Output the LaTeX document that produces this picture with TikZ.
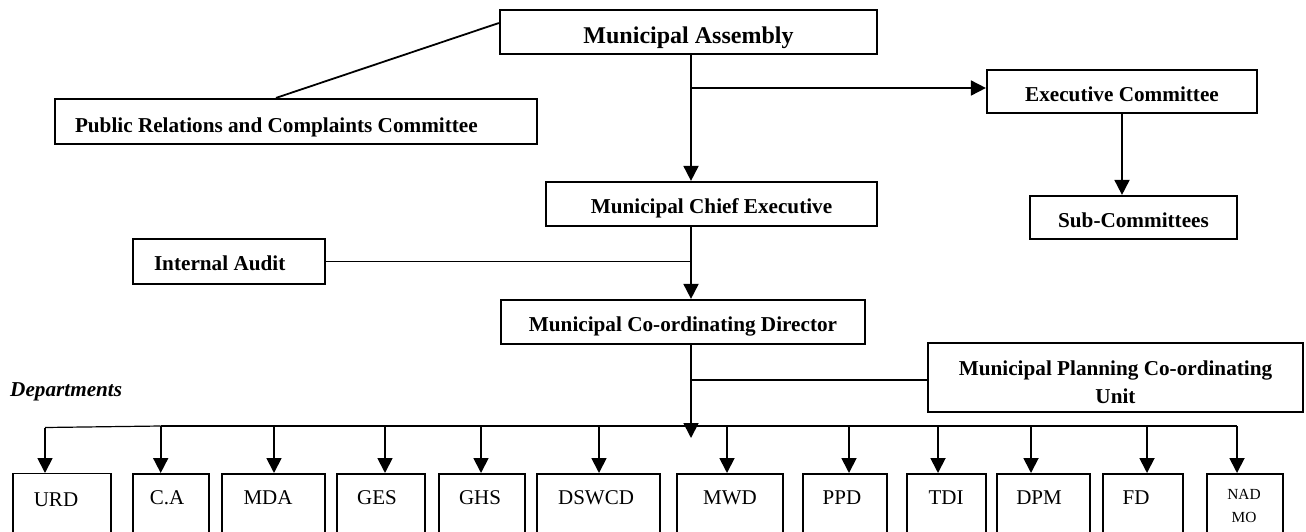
\documentclass[tikz,border=0pt]{standalone}
\usepackage{fontspec}
\setmainfont{Liberation Serif}
\usetikzlibrary{arrows.meta}
\begin{document}
\begin{tikzpicture}[x=1pt,y=-1pt,
  box/.style={draw, line width=2.2pt, inner sep=0pt, font=\bfseries\fontsize{21.2}{25}\selectfont, text height=19.5pt, text depth=0pt},
  dbox/.style={draw, line width=2pt, inner sep=0pt, minimum height=62pt},
  dlab/.style={anchor=base, inner sep=0pt, font=\fontsize{21}{25}\selectfont},
  conn/.style={line width=1.8pt},
  arr/.style={conn, -{Triangle[length=15pt,width=15pt]}}
]
\useasboundingbox (0,0) rectangle (1306,531);

% top boxes
\node[box, font=\bfseries\fontsize{24}{28}\selectfont, text height=22pt, minimum width=377pt, minimum height=44pt] (asm) at (688.5,32) {Municipal Assembly};
\node[box, text width=442pt, align=flush left, inner xsep=20pt, text height=21pt, minimum height=45pt] (pr) at (296,121.5) {Public Relations and Complaints Committee};
\node[box, minimum width=270pt, minimum height=43pt] (exec) at (1122,91.5) {Executive Committee};
\node[box, minimum width=331pt, minimum height=44pt] (mce) at (711.5,204) {Municipal Chief Executive};
\node[box, minimum width=207pt, minimum height=43pt] (sub) at (1133.5,217.5) {Sub-Committees};
\node[box, text width=150pt, align=flush left, inner xsep=21pt, text height=18.5pt, minimum height=45pt] (ia) at (229,261.5) {Internal Audit};
\node[box, minimum width=364pt, minimum height=44pt] (mcd) at (683,322) {Municipal Co-ordinating Director};
\node[box, font=\bfseries\fontsize{21.2}{28}\selectfont, text height=19.5pt, text depth=24.5pt, minimum width=375pt, minimum height=69pt] (mpcu) at (1115.5,377.5) {\begin{tabular}[t]{@{}c@{}}Municipal Planning Co-ordinating\\Unit\end{tabular}};
\node[anchor=base west, inner sep=0pt, font=\bfseries\itshape\fontsize{21.2}{25}\selectfont] (dept) at (10,396) {Departments};

% connectors
\coordinate (sx) at (691,0);
\draw[arr] (asm.south -| sx) -- (mce.north -| sx);
\coordinate (eb) at (691,88);
\draw[arr] (eb) -- (eb -| exec.west);
\draw[arr] (exec.south) -- (sub.north -| exec.south);
\draw[conn] ([yshift=9pt]asm.west) -- ([xshift=-20pt]pr.north);
\draw[conn] (ia.east) -- (ia.east -| sx);
\draw[arr] (mce.south -| sx) -- (mcd.north -| sx);
\coordinate (mp) at (691,380);
\draw[conn] (mp) -- (mp -| mpcu.west);
\coordinate (mtip) at (691,438);
\draw[arr] (mcd.south -| sx) -- (mtip);

% departments
\foreach \n/\l/\r/\t/\a/\txt in {ca/133/209/167/160.7/C.A, mda/222/325/268/274/MDA, ges/337/425/377/385/GES, ghs/439/525/480/481/GHS, dswcd/537/660/596/599/DSWCD, mwd/677/783/730/727/MWD, ppd/803/887/842/849/PPD, tdi/907/986/946/938/TDI, dpm/997/1090/1039/1031/DPM, fd/1103/1183/1136/1147/FD}{
  \node[dbox, minimum width={(\r-\l)*1pt}, anchor=north] (\n) at ({(\l+\r)/2},473) {};
  \node[dlab] (\n-t) at (\t,504) {\txt};
  \coordinate (a\n) at (\a,426);
  \draw[arr] (a\n) -- (a\n |- \n.north);
}
\node[dbox, line width=1.3pt, minimum width=98pt, minimum height=66pt, anchor=north] (urd) at (62,473) {};
\node[dlab] (urd-t) at (56,506) {URD};
\coordinate (aurd) at (45,427.5);
\draw[arr] (aurd) -- (aurd |- urd.north);
\draw[conn, line width=1.2pt] (aurd) -- (aca);

\node[dbox, minimum width=76pt, anchor=north] (nadmo) at (1245,473) {};
\node[dlab, font=\fontsize{15.4}{23}\selectfont] (nadmo-t) at (1244,499) {\begin{tabular}[t]{@{}c@{}}NAD\\MO\end{tabular}};
\coordinate (anadmo) at (1237,426);
\draw[arr] (anadmo) -- (anadmo |- nadmo.north);
\draw[conn, line width=2pt] (aca) -- (anadmo);
\end{tikzpicture}
\end{document}
